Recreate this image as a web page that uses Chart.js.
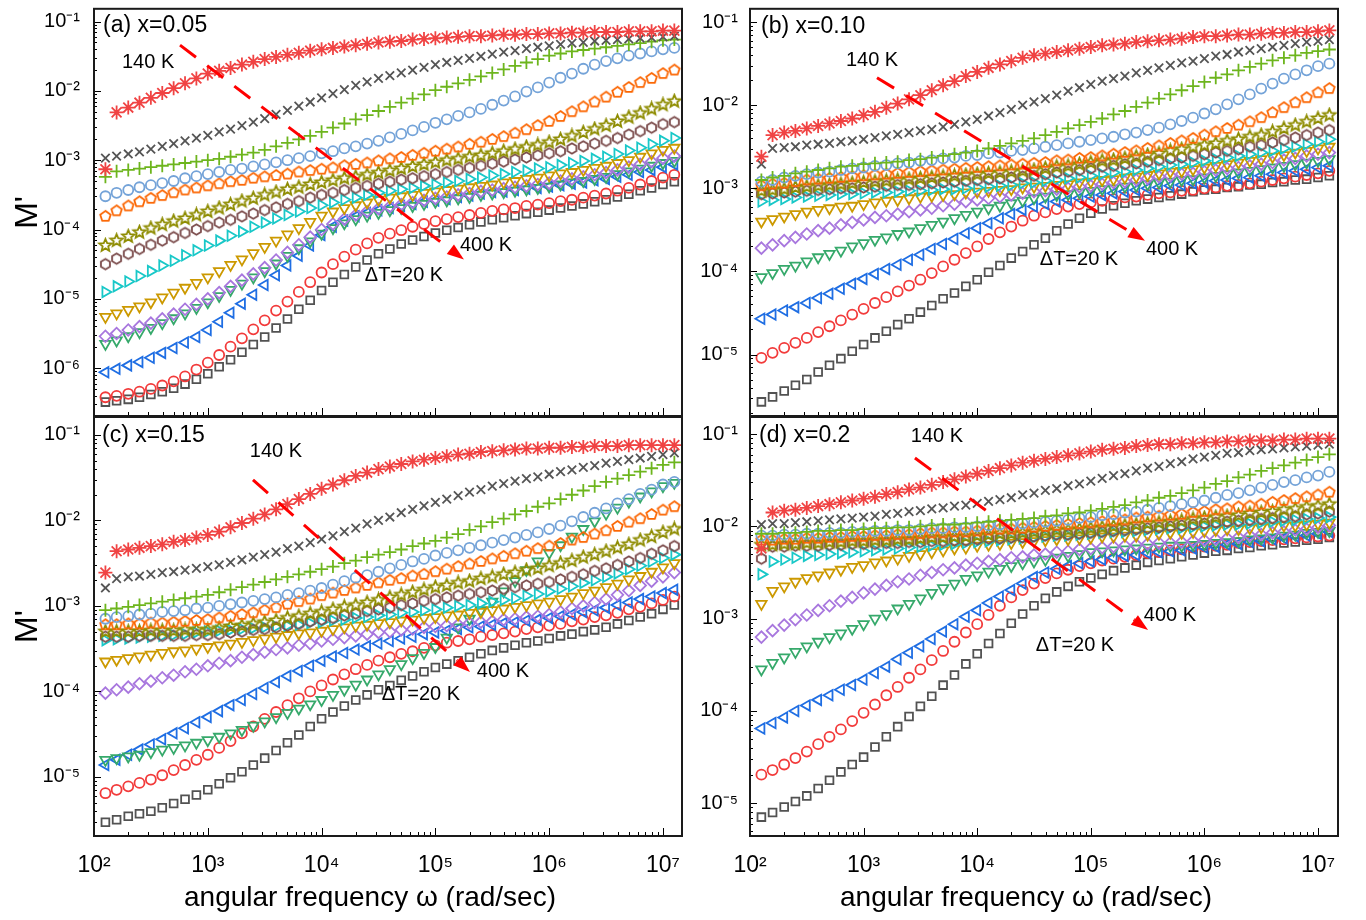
<!DOCTYPE html>
<html>
<head>
<meta charset="utf-8">
<script src="https://cdn.jsdelivr.net/npm/chart.js@4/dist/chart.umd.min.js"></script>
<style>
  body { margin: 0; background: #fff; overflow: hidden; }
  canvas { position: absolute; left: 0; top: 0; }
</style>
</head>
<body>
<canvas id="pa" width="1366" height="920"></canvas>
<canvas id="pb" width="1366" height="920"></canvas>
<canvas id="pc" width="1366" height="920"></canvas>
<canvas id="pd" width="1366" height="920"></canvas>
<script>
// angular frequency grid (rad/sec), 10 points per decade
var omega = [126,158,200,251,316,398,501,631,794,1000,
  1259,1585,1995,2512,3162, 3981,5012,6310,7943,10000,
  12589,15849,19953,25119,31623, 39811,50119,63096,79433,100000,
  125893,158489,199526,251189,316228, 398107,501187,630957,794328,1000000,
  1258925,1584893,1995262,2511886,3162278, 3981072,5011872,6309573,7943282,10000000,
  12589254];

var temps = [140,160,180,200,220,240,260,280,300,320,340,360,380,400];

// log10(M'), one array per temperature

// (a) x=0.05
var a140 = [-3.13,-2.31,-2.24,-2.17,-2.10,-2.03,-1.96,-1.89,-1.82,-1.75, -1.71,-1.67,-1.62,-1.58,-1.54, -1.51,-1.48,-1.45,-1.42,-1.40, -1.38,-1.36,-1.34,-1.32,-1.30, -1.29,-1.28,-1.26,-1.25,-1.24, -1.23,-1.22,-1.21,-1.21,-1.20, -1.19,-1.19,-1.18,-1.18,-1.17, -1.17,-1.16,-1.16,-1.15,-1.15, -1.15,-1.14,-1.14,-1.14,-1.13, -1.13];
var a160 = [-2.97,-2.94,-2.91,-2.88,-2.84,-2.80,-2.76,-2.72,-2.68,-2.64, -2.59,-2.55,-2.50,-2.45,-2.40, -2.34,-2.28,-2.22,-2.16,-2.10, -2.04,-1.98,-1.92,-1.87,-1.82, -1.78,-1.74,-1.70,-1.66,-1.62, -1.59,-1.56,-1.53,-1.50,-1.47, -1.44,-1.42,-1.39,-1.37,-1.35, -1.33,-1.31,-1.30,-1.28,-1.27, -1.26,-1.25,-1.24,-1.23,-1.22, -1.21];
var a180 = [-3.24,-3.16,-3.14,-3.12,-3.10,-3.08,-3.06,-3.04,-3.02,-3.00, -2.98,-2.95,-2.92,-2.89,-2.85, -2.80,-2.75,-2.70,-2.65,-2.59, -2.53,-2.47,-2.41,-2.35,-2.29, -2.23,-2.17,-2.11,-2.05,-1.99, -1.94,-1.89,-1.84,-1.79,-1.74, -1.69,-1.64,-1.59,-1.54,-1.49, -1.46,-1.43,-1.41,-1.39,-1.37, -1.35,-1.33,-1.31,-1.29,-1.27, -1.26];
var a200 = [-3.52,-3.47,-3.43,-3.39,-3.36,-3.33,-3.30,-3.26,-3.23,-3.20, -3.17,-3.14,-3.12,-3.09,-3.06, -3.03,-3.00,-2.97,-2.94,-2.90, -2.87,-2.83,-2.80,-2.76,-2.72, -2.67,-2.62,-2.57,-2.52,-2.46, -2.41,-2.36,-2.31,-2.26,-2.20, -2.14,-2.08,-2.01,-1.95,-1.88, -1.81,-1.75,-1.68,-1.62,-1.57, -1.53,-1.49,-1.46,-1.43,-1.40, -1.38];
var a220 = [-3.81,-3.73,-3.66,-3.60,-3.55,-3.51,-3.47,-3.43,-3.40,-3.37, -3.34,-3.31,-3.29,-3.26,-3.24, -3.22,-3.20,-3.17,-3.15,-3.13, -3.11,-3.08,-3.06,-3.04,-3.01, -2.98,-2.96,-2.93,-2.90,-2.87, -2.84,-2.81,-2.77,-2.74,-2.70, -2.66,-2.61,-2.56,-2.50,-2.44, -2.37,-2.30,-2.23,-2.16,-2.09, -2.02,-1.95,-1.88,-1.82,-1.75, -1.70];
var a240 = [-4.23,-4.16,-4.10,-4.04,-3.98,-3.93,-3.88,-3.84,-3.79,-3.74, -3.69,-3.64,-3.59,-3.55,-3.50, -3.46,-3.42,-3.39,-3.35,-3.32, -3.29,-3.26,-3.24,-3.21,-3.18, -3.15,-3.12,-3.09,-3.06,-3.03, -3.00,-2.98,-2.95,-2.93,-2.90, -2.87,-2.84,-2.81,-2.78,-2.74, -2.70,-2.65,-2.60,-2.55,-2.50, -2.44,-2.38,-2.32,-2.26,-2.20, -2.15];
var a260 = [-4.50,-4.42,-4.35,-4.28,-4.22,-4.16,-4.11,-4.05,-4.00,-3.95, -3.90,-3.86,-3.81,-3.77,-3.72, -3.68,-3.63,-3.59,-3.54,-3.50, -3.47,-3.43,-3.40,-3.37,-3.34, -3.31,-3.28,-3.26,-3.23,-3.20, -3.17,-3.14,-3.11,-3.08,-3.05, -3.02,-2.99,-2.96,-2.93,-2.90, -2.87,-2.83,-2.80,-2.76,-2.72, -2.68,-2.63,-2.58,-2.53,-2.48, -2.45];
var a280 = [-4.90,-4.82,-4.75,-4.67,-4.60,-4.52,-4.45,-4.37,-4.30,-4.23, -4.16,-4.09,-4.03,-3.96,-3.90, -3.84,-3.79,-3.74,-3.69,-3.65, -3.61,-3.57,-3.54,-3.50,-3.47, -3.44,-3.42,-3.40,-3.37,-3.35, -3.32,-3.30,-3.27,-3.25,-3.22, -3.20,-3.17,-3.15,-3.12,-3.10, -3.07,-3.04,-3.01,-2.98,-2.95, -2.91,-2.86,-2.82,-2.77,-2.72, -2.68];
var a300 = [-5.26,-5.21,-5.16,-5.11,-5.05,-4.98,-4.91,-4.84,-4.77,-4.69, -4.60,-4.51,-4.43,-4.34,-4.25, -4.16,-4.07,-3.98,-3.89,-3.80, -3.74,-3.69,-3.65,-3.61,-3.57, -3.54,-3.52,-3.50,-3.47,-3.45, -3.43,-3.41,-3.39,-3.37,-3.35, -3.32,-3.30,-3.27,-3.25,-3.22, -3.19,-3.17,-3.14,-3.11,-3.08, -3.04,-3.00,-2.95,-2.90,-2.85, -2.82];
var a320 = [-5.54,-5.50,-5.45,-5.40,-5.35,-5.29,-5.22,-5.15,-5.08,-5.00, -4.91,-4.82,-4.73,-4.64,-4.55, -4.44,-4.33,-4.22,-4.11,-4.00, -3.92,-3.85,-3.79,-3.74,-3.70, -3.67,-3.64,-3.61,-3.58,-3.55, -3.53,-3.50,-3.48,-3.45,-3.43, -3.41,-3.39,-3.37,-3.35,-3.33, -3.30,-3.27,-3.24,-3.21,-3.18, -3.14,-3.10,-3.06,-3.02,-2.97, -2.94];
var a340 = [-5.65,-5.60,-5.54,-5.48,-5.42,-5.35,-5.28,-5.21,-5.13,-5.05, -4.96,-4.87,-4.78,-4.69,-4.60, -4.49,-4.38,-4.27,-4.17,-4.06, -3.98,-3.91,-3.85,-3.80,-3.76, -3.72,-3.69,-3.66,-3.63,-3.60, -3.58,-3.55,-3.53,-3.50,-3.48, -3.46,-3.44,-3.42,-3.40,-3.38, -3.35,-3.32,-3.30,-3.27,-3.24, -3.20,-3.16,-3.12,-3.08,-3.04, -3.01];
var a360 = [-6.06,-6.01,-5.96,-5.91,-5.85,-5.78,-5.71,-5.63,-5.55,-5.45, -5.33,-5.20,-5.07,-4.94,-4.80, -4.66,-4.52,-4.38,-4.23,-4.08, -3.96,-3.87,-3.81,-3.76,-3.72, -3.69,-3.66,-3.63,-3.60,-3.58, -3.56,-3.53,-3.51,-3.48,-3.46, -3.45,-3.43,-3.41,-3.40,-3.38, -3.36,-3.34,-3.32,-3.29,-3.27, -3.24,-3.21,-3.17,-3.14,-3.10, -3.06];
var a380 = [-6.42,-6.40,-6.37,-6.34,-6.30,-6.25,-6.19,-6.12,-6.02,-5.92, -5.81,-5.69,-5.57,-5.44,-5.31, -5.17,-5.04,-4.90,-4.76,-4.62, -4.50,-4.39,-4.29,-4.20,-4.12, -4.06,-4.01,-3.96,-3.92,-3.88, -3.85,-3.82,-3.79,-3.76,-3.73, -3.71,-3.69,-3.66,-3.64,-3.62, -3.59,-3.57,-3.54,-3.51,-3.48, -3.44,-3.40,-3.35,-3.30,-3.25, -3.21];
var a400 = [-6.49,-6.47,-6.45,-6.42,-6.38,-6.34,-6.29,-6.23,-6.16,-6.08, -5.98,-5.88,-5.77,-5.66,-5.55, -5.42,-5.29,-5.15,-5.02,-4.88, -4.76,-4.65,-4.54,-4.44,-4.35, -4.28,-4.21,-4.15,-4.10,-4.05, -4.01,-3.97,-3.93,-3.89,-3.86, -3.83,-3.80,-3.77,-3.75,-3.72, -3.69,-3.66,-3.63,-3.60,-3.57, -3.53,-3.49,-3.44,-3.40,-3.35, -3.31];

// (b) x=0.10
var b140 = [-2.62,-2.36,-2.33,-2.31,-2.28,-2.25,-2.22,-2.19,-2.16,-2.12, -2.08,-2.03,-1.98,-1.93,-1.88, -1.82,-1.76,-1.71,-1.65,-1.60, -1.55,-1.51,-1.47,-1.43,-1.40, -1.38,-1.36,-1.34,-1.32,-1.30, -1.28,-1.27,-1.26,-1.24,-1.23, -1.22,-1.21,-1.20,-1.18,-1.17, -1.17,-1.16,-1.15,-1.15,-1.14, -1.13,-1.13,-1.12,-1.12,-1.11, -1.10];
var b160 = [-2.71,-2.52,-2.51,-2.50,-2.48,-2.47,-2.46,-2.44,-2.43,-2.41, -2.39,-2.37,-2.35,-2.33,-2.31, -2.29,-2.26,-2.23,-2.20,-2.17, -2.13,-2.09,-2.05,-2.00,-1.96, -1.92,-1.88,-1.83,-1.79,-1.75, -1.71,-1.68,-1.65,-1.61,-1.58, -1.55,-1.52,-1.49,-1.47,-1.44, -1.41,-1.39,-1.36,-1.34,-1.32, -1.30,-1.28,-1.26,-1.24,-1.23, -1.21];
var b180 = [-2.90,-2.87,-2.85,-2.82,-2.80,-2.78,-2.76,-2.74,-2.73,-2.71, -2.70,-2.69,-2.68,-2.66,-2.65, -2.63,-2.61,-2.59,-2.57,-2.55, -2.52,-2.49,-2.46,-2.43,-2.40, -2.36,-2.32,-2.28,-2.24,-2.20, -2.16,-2.11,-2.07,-2.02,-1.97, -1.92,-1.87,-1.82,-1.77,-1.72, -1.67,-1.63,-1.58,-1.54,-1.50, -1.46,-1.43,-1.40,-1.37,-1.35, -1.33];
var b200 = [-2.92,-2.90,-2.87,-2.85,-2.83,-2.81,-2.80,-2.78,-2.76,-2.75, -2.73,-2.72,-2.70,-2.69,-2.67, -2.66,-2.64,-2.63,-2.61,-2.60, -2.58,-2.57,-2.55,-2.54,-2.52, -2.50,-2.48,-2.46,-2.44,-2.42, -2.40,-2.38,-2.35,-2.33,-2.30, -2.27,-2.23,-2.19,-2.15,-2.10, -2.05,-1.99,-1.93,-1.87,-1.80, -1.74,-1.68,-1.63,-1.58,-1.53, -1.50];
var b220 = [-2.97,-2.95,-2.94,-2.92,-2.90,-2.89,-2.88,-2.87,-2.86,-2.85, -2.84,-2.83,-2.82,-2.81,-2.80, -2.79,-2.78,-2.77,-2.76,-2.75, -2.74,-2.73,-2.72,-2.71,-2.70, -2.69,-2.67,-2.66,-2.64,-2.63, -2.61,-2.59,-2.57,-2.55,-2.52, -2.49,-2.46,-2.43,-2.40,-2.36, -2.32,-2.28,-2.24,-2.20,-2.15, -2.09,-2.03,-1.97,-1.91,-1.85, -1.80];
var b240 = [-3.03,-3.02,-3.01,-2.99,-2.98,-2.97,-2.96,-2.95,-2.94,-2.93, -2.92,-2.91,-2.90,-2.89,-2.88, -2.87,-2.86,-2.85,-2.84,-2.83, -2.82,-2.81,-2.80,-2.79,-2.78, -2.76,-2.74,-2.73,-2.71,-2.69, -2.67,-2.66,-2.64,-2.62,-2.60, -2.58,-2.55,-2.53,-2.50,-2.48, -2.46,-2.43,-2.41,-2.38,-2.36, -2.32,-2.28,-2.24,-2.20,-2.16, -2.12];
var b260 = [-3.07,-3.06,-3.05,-3.04,-3.03,-3.02,-3.01,-3.00,-3.00,-2.99, -2.98,-2.97,-2.96,-2.96,-2.95, -2.94,-2.93,-2.92,-2.91,-2.90, -2.89,-2.88,-2.87,-2.86,-2.85, -2.83,-2.81,-2.80,-2.78,-2.76, -2.74,-2.73,-2.71,-2.70,-2.68, -2.66,-2.64,-2.63,-2.61,-2.59, -2.57,-2.55,-2.53,-2.50,-2.48, -2.45,-2.42,-2.39,-2.36,-2.33, -2.30];
var b280 = [-3.16,-3.14,-3.13,-3.11,-3.10,-3.09,-3.08,-3.07,-3.07,-3.06, -3.05,-3.05,-3.04,-3.03,-3.03, -3.02,-3.01,-3.01,-3.00,-2.99, -2.98,-2.97,-2.96,-2.94,-2.93, -2.91,-2.90,-2.88,-2.87,-2.85, -2.83,-2.81,-2.80,-2.78,-2.76, -2.74,-2.72,-2.71,-2.69,-2.67, -2.65,-2.63,-2.61,-2.59,-2.57, -2.55,-2.52,-2.50,-2.47,-2.44, -2.41];
var b300 = [-3.40,-3.37,-3.34,-3.31,-3.28,-3.26,-3.24,-3.22,-3.21,-3.19, -3.17,-3.15,-3.14,-3.12,-3.10, -3.09,-3.08,-3.07,-3.05,-3.04, -3.03,-3.02,-3.01,-2.99,-2.98, -2.97,-2.96,-2.95,-2.93,-2.92, -2.90,-2.89,-2.87,-2.86,-2.84, -2.82,-2.80,-2.79,-2.77,-2.75, -2.73,-2.71,-2.69,-2.67,-2.65, -2.62,-2.60,-2.57,-2.55,-2.52, -2.50];
var b320 = [-3.72,-3.68,-3.63,-3.59,-3.55,-3.51,-3.48,-3.44,-3.41,-3.38, -3.35,-3.33,-3.31,-3.28,-3.26, -3.24,-3.21,-3.19,-3.16,-3.14, -3.12,-3.10,-3.08,-3.06,-3.04, -3.03,-3.01,-3.00,-2.98,-2.97, -2.95,-2.93,-2.92,-2.90,-2.88, -2.86,-2.85,-2.83,-2.82,-2.80, -2.78,-2.76,-2.75,-2.73,-2.71, -2.69,-2.66,-2.64,-2.61,-2.59, -2.57];
var b340 = [-4.07,-4.02,-3.97,-3.93,-3.88,-3.83,-3.79,-3.75,-3.70,-3.66, -3.62,-3.59,-3.55,-3.52,-3.48, -3.44,-3.40,-3.36,-3.32,-3.28, -3.24,-3.21,-3.18,-3.15,-3.12, -3.10,-3.08,-3.07,-3.05,-3.03, -3.01,-3.00,-2.98,-2.97,-2.95, -2.93,-2.92,-2.90,-2.89,-2.87, -2.85,-2.83,-2.81,-2.79,-2.77, -2.75,-2.73,-2.71,-2.69,-2.67, -2.65];
var b360 = [-4.57,-4.52,-4.47,-4.43,-4.38,-4.32,-4.27,-4.21,-4.15,-4.09, -4.03,-3.97,-3.92,-3.86,-3.80, -3.73,-3.67,-3.61,-3.54,-3.48, -3.42,-3.36,-3.31,-3.26,-3.22, -3.19,-3.16,-3.14,-3.12,-3.10, -3.08,-3.06,-3.04,-3.02,-3.00, -2.99,-2.97,-2.96,-2.94,-2.93, -2.91,-2.90,-2.88,-2.87,-2.85, -2.83,-2.81,-2.79,-2.77,-2.75, -2.73];
var b380 = [-5.04,-4.98,-4.92,-4.86,-4.80,-4.73,-4.66,-4.59,-4.52,-4.45, -4.38,-4.31,-4.24,-4.17,-4.10, -4.02,-3.94,-3.86,-3.78,-3.70, -3.61,-3.53,-3.46,-3.39,-3.33, -3.29,-3.25,-3.22,-3.19,-3.17, -3.15,-3.13,-3.11,-3.10,-3.08, -3.06,-3.05,-3.03,-3.02,-3.00, -2.99,-2.97,-2.96,-2.94,-2.92, -2.90,-2.88,-2.86,-2.84,-2.82, -2.79];
var b400 = [-5.57,-5.51,-5.44,-5.37,-5.30,-5.21,-5.13,-5.05,-4.96,-4.88, -4.80,-4.72,-4.64,-4.57,-4.49, -4.41,-4.33,-4.26,-4.18,-4.10, -4.01,-3.93,-3.84,-3.76,-3.68, -3.60,-3.51,-3.43,-3.36,-3.30, -3.25,-3.21,-3.18,-3.15,-3.13, -3.11,-3.09,-3.07,-3.04,-3.02, -3.01,-2.99,-2.98,-2.96,-2.95, -2.93,-2.92,-2.90,-2.89,-2.87, -2.85];

// (c) x=0.15
var c140 = [-2.61,-2.36,-2.34,-2.32,-2.30,-2.28,-2.25,-2.23,-2.20,-2.17, -2.13,-2.08,-2.03,-1.98,-1.93, -1.87,-1.81,-1.75,-1.69,-1.63, -1.58,-1.53,-1.48,-1.44,-1.40, -1.37,-1.34,-1.31,-1.29,-1.27, -1.25,-1.23,-1.22,-1.20,-1.19, -1.18,-1.17,-1.16,-1.16,-1.15, -1.15,-1.14,-1.14,-1.13,-1.13, -1.13,-1.12,-1.12,-1.12,-1.12, -1.12];
var c160 = [-2.79,-2.68,-2.66,-2.65,-2.63,-2.61,-2.60,-2.58,-2.56,-2.54, -2.52,-2.49,-2.46,-2.43,-2.40, -2.37,-2.33,-2.30,-2.26,-2.22, -2.18,-2.13,-2.09,-2.04,-2.00, -1.96,-1.91,-1.87,-1.83,-1.79, -1.75,-1.71,-1.67,-1.64,-1.60, -1.57,-1.54,-1.51,-1.49,-1.46, -1.43,-1.41,-1.38,-1.36,-1.33, -1.31,-1.29,-1.27,-1.25,-1.23, -1.21];
var c180 = [-3.05,-3.03,-3.01,-2.99,-2.97,-2.95,-2.93,-2.91,-2.89,-2.87, -2.84,-2.81,-2.78,-2.75,-2.72, -2.69,-2.66,-2.63,-2.60,-2.57, -2.54,-2.50,-2.47,-2.43,-2.40, -2.37,-2.34,-2.30,-2.27,-2.24, -2.20,-2.16,-2.11,-2.07,-2.02, -1.98,-1.93,-1.89,-1.84,-1.80, -1.75,-1.70,-1.65,-1.60,-1.55, -1.51,-1.47,-1.43,-1.39,-1.35, -1.32];
var c200 = [-3.15,-3.13,-3.12,-3.10,-3.09,-3.07,-3.06,-3.05,-3.03,-3.02, -3.00,-2.98,-2.96,-2.94,-2.92, -2.90,-2.87,-2.85,-2.82,-2.79, -2.75,-2.71,-2.67,-2.64,-2.60, -2.56,-2.52,-2.48,-2.45,-2.41, -2.38,-2.35,-2.32,-2.29,-2.26, -2.23,-2.20,-2.17,-2.14,-2.10, -2.06,-2.01,-1.96,-1.91,-1.86, -1.80,-1.75,-1.69,-1.64,-1.58, -1.55];
var c220 = [-3.22,-3.22,-3.21,-3.21,-3.20,-3.20,-3.19,-3.18,-3.17,-3.16, -3.14,-3.12,-3.10,-3.08,-3.05, -3.02,-2.98,-2.95,-2.92,-2.88, -2.85,-2.82,-2.79,-2.76,-2.73, -2.70,-2.68,-2.65,-2.63,-2.60, -2.57,-2.54,-2.51,-2.48,-2.45, -2.42,-2.39,-2.36,-2.33,-2.30, -2.27,-2.23,-2.20,-2.16,-2.12, -2.07,-2.02,-1.98,-1.93,-1.88, -1.84];
var c240 = [-3.30,-3.30,-3.30,-3.30,-3.29,-3.29,-3.29,-3.28,-3.28,-3.28, -3.26,-3.24,-3.23,-3.21,-3.19, -3.17,-3.14,-3.12,-3.09,-3.07, -3.04,-3.01,-2.99,-2.96,-2.93, -2.90,-2.87,-2.84,-2.81,-2.78, -2.76,-2.73,-2.71,-2.68,-2.66, -2.63,-2.61,-2.58,-2.56,-2.53, -2.50,-2.47,-2.43,-2.40,-2.36, -2.32,-2.28,-2.23,-2.19,-2.14, -2.10];
var c260 = [-3.36,-3.36,-3.36,-3.35,-3.35,-3.35,-3.35,-3.35,-3.34,-3.34, -3.33,-3.31,-3.30,-3.28,-3.27, -3.25,-3.23,-3.21,-3.18,-3.16, -3.14,-3.11,-3.09,-3.06,-3.04, -3.02,-2.99,-2.97,-2.94,-2.92, -2.90,-2.88,-2.86,-2.84,-2.82, -2.80,-2.78,-2.76,-2.74,-2.72, -2.69,-2.66,-2.63,-2.59,-2.56, -2.52,-2.48,-2.44,-2.39,-2.35, -2.30];
var c280 = [-3.40,-3.39,-3.38,-3.37,-3.36,-3.35,-3.34,-3.33,-3.31,-3.30, -3.29,-3.28,-3.27,-3.26,-3.25, -3.24,-3.23,-3.22,-3.20,-3.19, -3.17,-3.16,-3.14,-3.13,-3.11, -3.10,-3.08,-3.07,-3.05,-3.04, -3.02,-3.00,-2.99,-2.97,-2.95, -2.93,-2.91,-2.88,-2.86,-2.83, -2.80,-2.77,-2.73,-2.70,-2.66, -2.62,-2.57,-2.53,-2.48,-2.44, -2.40];
var c300 = [-3.65,-3.63,-3.61,-3.59,-3.57,-3.55,-3.53,-3.52,-3.50,-3.48, -3.46,-3.44,-3.42,-3.40,-3.38, -3.36,-3.34,-3.32,-3.31,-3.29, -3.27,-3.25,-3.23,-3.22,-3.20, -3.19,-3.17,-3.16,-3.14,-3.13, -3.11,-3.10,-3.08,-3.07,-3.05, -3.03,-3.01,-2.99,-2.97,-2.95, -2.92,-2.89,-2.85,-2.82,-2.78, -2.74,-2.69,-2.65,-2.60,-2.55, -2.50];
var c320 = [-4.02,-3.98,-3.95,-3.91,-3.88,-3.84,-3.81,-3.77,-3.74,-3.70, -3.67,-3.64,-3.60,-3.57,-3.54, -3.51,-3.49,-3.46,-3.44,-3.41, -3.39,-3.37,-3.35,-3.33,-3.31, -3.30,-3.28,-3.27,-3.25,-3.24, -3.23,-3.22,-3.20,-3.19,-3.18, -3.16,-3.15,-3.13,-3.12,-3.10, -3.07,-3.03,-3.00,-2.96,-2.92, -2.87,-2.82,-2.76,-2.71,-2.66, -2.61];
var c340 = [-4.80,-4.78,-4.76,-4.74,-4.71,-4.68,-4.66,-4.63,-4.60,-4.57, -4.53,-4.49,-4.45,-4.40,-4.35, -4.30,-4.25,-4.20,-4.15,-4.10, -4.04,-3.98,-3.92,-3.86,-3.80, -3.74,-3.68,-3.61,-3.55,-3.48, -3.37,-3.25,-3.15,-3.05,-2.95, -2.83,-2.71,-2.58,-2.48,-2.38, -2.29,-2.19,-2.10,-2.01,-1.92, -1.85,-1.78,-1.72,-1.66,-1.60, -1.56];
var c360 = [-4.86,-4.80,-4.74,-4.68,-4.62,-4.56,-4.49,-4.43,-4.36,-4.30, -4.23,-4.16,-4.10,-4.03,-3.96, -3.89,-3.82,-3.76,-3.70,-3.64, -3.59,-3.55,-3.51,-3.47,-3.44, -3.41,-3.38,-3.36,-3.33,-3.31, -3.29,-3.27,-3.25,-3.24,-3.22, -3.20,-3.19,-3.17,-3.16,-3.14, -3.12,-3.10,-3.07,-3.05,-3.02, -2.99,-2.96,-2.92,-2.89,-2.85, -2.81];
var c380 = [-5.19,-5.15,-5.11,-5.07,-5.03,-4.98,-4.92,-4.86,-4.80,-4.74, -4.66,-4.58,-4.49,-4.41,-4.32, -4.24,-4.16,-4.08,-4.00,-3.93, -3.86,-3.80,-3.74,-3.69,-3.64, -3.60,-3.56,-3.53,-3.49,-3.46, -3.43,-3.41,-3.39,-3.36,-3.34, -3.32,-3.30,-3.27,-3.25,-3.23, -3.21,-3.18,-3.16,-3.13,-3.11, -3.08,-3.04,-3.01,-2.97,-2.93, -2.89];
var c400 = [-5.53,-5.50,-5.46,-5.43,-5.40,-5.36,-5.31,-5.26,-5.21,-5.15, -5.08,-5.01,-4.94,-4.86,-4.78, -4.69,-4.60,-4.51,-4.41,-4.32, -4.24,-4.17,-4.10,-4.04,-3.98, -3.93,-3.87,-3.82,-3.77,-3.72, -3.68,-3.64,-3.60,-3.56,-3.52, -3.49,-3.46,-3.43,-3.41,-3.38, -3.35,-3.33,-3.30,-3.28,-3.25, -3.21,-3.17,-3.13,-3.09,-3.04, -2.99];

// (d) x=0.2
var d140 = [-2.24,-1.85,-1.83,-1.82,-1.80,-1.78,-1.76,-1.74,-1.72,-1.70, -1.68,-1.65,-1.63,-1.60,-1.58, -1.55,-1.52,-1.49,-1.46,-1.43, -1.40,-1.37,-1.34,-1.31,-1.29, -1.27,-1.25,-1.23,-1.21,-1.19, -1.17,-1.16,-1.15,-1.13,-1.12, -1.11,-1.11,-1.10,-1.10,-1.09, -1.09,-1.08,-1.08,-1.07,-1.07, -1.07,-1.06,-1.06,-1.05,-1.05, -1.05];
var d160 = [-1.98,-1.97,-1.97,-1.96,-1.95,-1.94,-1.93,-1.92,-1.91,-1.90, -1.89,-1.87,-1.86,-1.84,-1.83, -1.81,-1.80,-1.78,-1.77,-1.75, -1.73,-1.71,-1.69,-1.66,-1.64, -1.61,-1.59,-1.56,-1.54,-1.51, -1.48,-1.45,-1.43,-1.40,-1.37, -1.35,-1.32,-1.30,-1.27,-1.25, -1.23,-1.21,-1.20,-1.18,-1.17, -1.16,-1.15,-1.14,-1.13,-1.12, -1.11];
var d180 = [-2.08,-2.08,-2.07,-2.07,-2.06,-2.05,-2.05,-2.04,-2.04,-2.03, -2.02,-2.02,-2.01,-2.01,-2.00, -1.99,-1.98,-1.98,-1.97,-1.96, -1.95,-1.94,-1.93,-1.92,-1.91, -1.89,-1.88,-1.86,-1.85,-1.83, -1.81,-1.79,-1.77,-1.74,-1.72, -1.69,-1.67,-1.64,-1.61,-1.58, -1.54,-1.51,-1.47,-1.44,-1.40, -1.37,-1.34,-1.31,-1.28,-1.25, -1.22];
var d200 = [-2.10,-2.10,-2.09,-2.09,-2.08,-2.08,-2.07,-2.07,-2.06,-2.06, -2.05,-2.05,-2.04,-2.04,-2.03, -2.02,-2.02,-2.01,-2.01,-2.00, -1.99,-1.98,-1.98,-1.97,-1.96, -1.95,-1.94,-1.93,-1.91,-1.90, -1.88,-1.87,-1.85,-1.84,-1.82, -1.80,-1.78,-1.76,-1.74,-1.72, -1.69,-1.66,-1.64,-1.61,-1.58, -1.55,-1.52,-1.50,-1.47,-1.45, -1.41];
var d220 = [-2.15,-2.15,-2.14,-2.14,-2.13,-2.13,-2.12,-2.12,-2.11,-2.11, -2.10,-2.10,-2.09,-2.09,-2.08, -2.07,-2.07,-2.06,-2.06,-2.05, -2.04,-2.03,-2.03,-2.02,-2.01, -2.00,-1.99,-1.98,-1.97,-1.96, -1.95,-1.94,-1.93,-1.91,-1.90, -1.89,-1.88,-1.87,-1.85,-1.84, -1.82,-1.81,-1.79,-1.78,-1.76, -1.74,-1.72,-1.70,-1.68,-1.66, -1.63];
var d240 = [-2.20,-2.20,-2.19,-2.19,-2.18,-2.18,-2.17,-2.17,-2.16,-2.16, -2.15,-2.15,-2.14,-2.14,-2.13, -2.12,-2.12,-2.11,-2.11,-2.10, -2.09,-2.08,-2.08,-2.07,-2.06, -2.05,-2.04,-2.04,-2.03,-2.02, -2.01,-2.00,-1.99,-1.98,-1.97, -1.96,-1.95,-1.94,-1.92,-1.91, -1.90,-1.89,-1.88,-1.86,-1.85, -1.84,-1.82,-1.81,-1.79,-1.78, -1.76];
var d260 = [-2.35,-2.22,-2.22,-2.21,-2.21,-2.21,-2.20,-2.20,-2.19,-2.19, -2.19,-2.18,-2.18,-2.17,-2.17, -2.16,-2.16,-2.15,-2.15,-2.14, -2.13,-2.13,-2.12,-2.12,-2.11, -2.10,-2.09,-2.09,-2.08,-2.07, -2.06,-2.05,-2.04,-2.03,-2.02, -2.01,-2.00,-1.99,-1.98,-1.97, -1.96,-1.95,-1.94,-1.93,-1.92, -1.91,-1.90,-1.89,-1.87,-1.86, -1.84];
var d280 = [-2.52,-2.38,-2.36,-2.34,-2.32,-2.31,-2.30,-2.29,-2.28,-2.27, -2.26,-2.25,-2.24,-2.23,-2.22, -2.21,-2.20,-2.19,-2.18,-2.17, -2.16,-2.15,-2.14,-2.13,-2.12, -2.11,-2.10,-2.10,-2.09,-2.08, -2.07,-2.06,-2.06,-2.05,-2.04, -2.03,-2.02,-2.02,-2.01,-2.00, -1.99,-1.98,-1.98,-1.97,-1.96, -1.95,-1.94,-1.93,-1.92,-1.91, -1.90];
var d300 = [-2.84,-2.70,-2.65,-2.60,-2.56,-2.53,-2.50,-2.47,-2.44,-2.42, -2.39,-2.37,-2.35,-2.32,-2.30, -2.28,-2.26,-2.24,-2.23,-2.21, -2.20,-2.19,-2.18,-2.17,-2.16, -2.15,-2.14,-2.14,-2.13,-2.12, -2.11,-2.11,-2.10,-2.10,-2.09, -2.08,-2.07,-2.07,-2.06,-2.05, -2.04,-2.03,-2.03,-2.02,-2.01, -2.00,-1.99,-1.99,-1.98,-1.97, -1.96];
var d320 = [-3.20,-3.13,-3.07,-3.01,-2.96,-2.91,-2.86,-2.81,-2.77,-2.72, -2.68,-2.64,-2.60,-2.57,-2.53, -2.50,-2.47,-2.45,-2.42,-2.40, -2.38,-2.36,-2.34,-2.33,-2.31, -2.30,-2.28,-2.27,-2.25,-2.24, -2.23,-2.22,-2.21,-2.20,-2.19, -2.18,-2.18,-2.17,-2.16,-2.15, -2.14,-2.13,-2.12,-2.10,-2.09, -2.07,-2.06,-2.04,-2.03,-2.01, -1.99];
var d340 = [-3.55,-3.48,-3.42,-3.36,-3.30,-3.25,-3.20,-3.16,-3.11,-3.06, -3.00,-2.95,-2.89,-2.84,-2.78, -2.72,-2.67,-2.62,-2.57,-2.53, -2.49,-2.46,-2.43,-2.40,-2.38, -2.36,-2.34,-2.32,-2.30,-2.28, -2.27,-2.26,-2.25,-2.24,-2.23, -2.22,-2.21,-2.21,-2.20,-2.19, -2.18,-2.17,-2.16,-2.14,-2.13, -2.12,-2.10,-2.09,-2.07,-2.06, -2.05];
var d360 = [-4.19,-4.13,-4.07,-4.00,-3.94,-3.88,-3.83,-3.77,-3.72,-3.66, -3.59,-3.52,-3.44,-3.37,-3.30, -3.22,-3.14,-3.06,-2.98,-2.91, -2.83,-2.76,-2.69,-2.62,-2.55, -2.50,-2.46,-2.43,-2.40,-2.38, -2.36,-2.34,-2.32,-2.31,-2.29, -2.28,-2.27,-2.26,-2.24,-2.23, -2.22,-2.20,-2.19,-2.17,-2.16, -2.14,-2.13,-2.11,-2.10,-2.08, -2.06];
var d380 = [-4.69,-4.64,-4.58,-4.51,-4.44,-4.36,-4.28,-4.20,-4.11,-4.02, -3.93,-3.83,-3.74,-3.64,-3.55, -3.45,-3.35,-3.25,-3.15,-3.06, -2.96,-2.86,-2.77,-2.69,-2.62, -2.56,-2.51,-2.47,-2.43,-2.40, -2.37,-2.35,-2.33,-2.31,-2.29, -2.28,-2.26,-2.25,-2.23,-2.22, -2.21,-2.20,-2.18,-2.17,-2.16, -2.15,-2.14,-2.13,-2.12,-2.11, -2.10];
var d400 = [-5.15,-5.10,-5.04,-4.98,-4.92,-4.84,-4.75,-4.66,-4.58,-4.50, -4.39,-4.28,-4.17,-4.06,-3.95, -3.84,-3.72,-3.61,-3.49,-3.38, -3.27,-3.16,-3.05,-2.95,-2.86, -2.78,-2.71,-2.65,-2.60,-2.56, -2.52,-2.48,-2.45,-2.42,-2.39, -2.37,-2.35,-2.33,-2.31,-2.29, -2.27,-2.26,-2.24,-2.23,-2.21, -2.20,-2.18,-2.17,-2.15,-2.14, -2.12];

// marker look per temperature (140 K ... 400 K)
var colors = ['#f04343','#555555','#6db51d','#74a3d8','#fb6500','#8e8c00','#7b4b4b','#19c8c8','#cc9900','#a877de','#36a96b','#1f6ee3','#f23b3b','#525252'];
var shapes = ['star','crossRot','cross','circle','pentagon','star5','hexagon','triangle','triangle','rectRot','triangle','triangle','circle','rect'];
var rotations = [0,0,0,0,0,0,0,90,180,0,180,-90,0,0];
var radii = [7,6,6.5,5,5.5,6.5,5.2,6,6,5.8,6,6,5,5.5];

Chart.defaults.font.family = "'Liberation Sans', Arial, Helvetica, sans-serif";
Chart.defaults.color = '#000';

function outlineShape(kind, color, r) {
  var s = Math.ceil(r * 2 + 4);
  var c = document.createElement('canvas');
  c.width = s; c.height = s;
  var g = c.getContext('2d');
  g.strokeStyle = color;
  g.lineWidth = 1.8;
  var n = kind === 'star5' ? 10 : (kind === 'pentagon' ? 5 : 6);
  g.beginPath();
  for (var i = 0; i < n; i++) {
    var ang = -Math.PI / 2 + i * 2 * Math.PI / n;
    var rr = kind === 'star5' && i % 2 ? r * 0.45 : r;
    var px = s / 2 + rr * Math.cos(ang), py = s / 2 + rr * Math.sin(ang);
    if (i) g.lineTo(px, py); else g.moveTo(px, py);
  }
  g.closePath();
  g.stroke();
  return c;
}

function styleFor(i) {
  var k = shapes[i];
  if (k === 'pentagon' || k === 'star5' || k === 'hexagon') return outlineShape(k, colors[i], radii[i]);
  return k;
}

var sup = {'-':'\u207B','0':'\u2070','1':'\u00B9','2':'\u00B2','3':'\u00B3','4':'\u2074','5':'\u2075','6':'\u2076','7':'\u2077','8':'\u2078','9':'\u2079'};
function decadeLabel(v) {
  var e = Math.log10(v), r = Math.round(e);
  if (Math.abs(e - r) > 1e-6) return '';
  return '10' + String(r).split('').map(function (ch) { return sup[ch]; }).join('');
}

// frame, inward ticks, arrow and notes
var decor = {
  id: 'decor',
  afterDatasetsDraw: function (chart, args, o) {
    var ctx = chart.ctx, a = chart.chartArea, x = chart.scales.x, y = chart.scales.y;
    ctx.save();
    // dashed arrow 140 K -> 400 K
    var px0 = x.getPixelForValue(o.arrow[0]), py0 = y.getPixelForValue(o.arrow[1]);
    var px1 = x.getPixelForValue(o.arrow[2]), py1 = y.getPixelForValue(o.arrow[3]);
    var ang = Math.atan2(py1 - py0, px1 - px0);
    var head = 17, half = 6;
    var bx = px1 - head * Math.cos(ang), by = py1 - head * Math.sin(ang);
    ctx.strokeStyle = '#ff0000';
    ctx.fillStyle = '#ff0000';
    ctx.lineWidth = 3;
    ctx.setLineDash([20, 14]);
    ctx.beginPath(); ctx.moveTo(px0, py0); ctx.lineTo(bx, by); ctx.stroke();
    ctx.setLineDash([]);
    ctx.beginPath();
    ctx.moveTo(px1, py1);
    ctx.lineTo(bx + half * Math.sin(ang), by - half * Math.cos(ang));
    ctx.lineTo(bx - half * Math.sin(ang), by + half * Math.cos(ang));
    ctx.closePath(); ctx.fill();

    ctx.fillStyle = '#000';
    ctx.textBaseline = 'middle';
    ctx.textAlign = 'center';
    ctx.font = "20px 'Liberation Sans', Arial, sans-serif";
    o.notes.forEach(function (n) {
      ctx.fillText(n.t, x.getPixelForValue(n.x), y.getPixelForValue(n.y));
    });
    ctx.textAlign = 'left';
    ctx.font = "23px 'Liberation Sans', Arial, sans-serif";
    ctx.fillText(o.label, a.left + o.labelDx, a.top + o.labelDy);

    // inward ticks
    ctx.strokeStyle = '#000';
    ctx.lineWidth = 1;
    ctx.beginPath();
    for (var e = -8; e <= 8; e++) {
      for (var m = 1; m < 10; m++) {
        var v = m * Math.pow(10, e);
        var len = m === 1 ? 8 : 4;
        if (v >= x.min && v <= x.max) {
          var tx = Math.round(x.getPixelForValue(v)) + 0.5;
          ctx.moveTo(tx, a.bottom); ctx.lineTo(tx, a.bottom - len);
        }
        if (v >= y.min && v <= y.max) {
          var ty = Math.round(y.getPixelForValue(v)) + 0.5;
          ctx.moveTo(a.left, ty); ctx.lineTo(a.left + len - 1, ty);
        }
      }
    }
    ctx.stroke();

    // frame
    ctx.strokeStyle = '#1a1a1a';
    ctx.lineWidth = 2;
    ctx.strokeRect(a.left, a.top, a.right - a.left, a.bottom - a.top);

    if (o.xTitle) {
      ctx.fillStyle = '#000';
      ctx.textAlign = 'center';
      ctx.font = "28px 'Liberation Sans', Arial, sans-serif";
      ctx.fillText(o.xTitle, (a.left + a.right) / 2 - 18, a.bottom + 62);
    }
    ctx.restore();
  }
};

var panels = [
  { id: 'pa', label: '(a) x=0.05', series: [a140,a160,a180,a200,a220,a240,a260,a280,a300,a320,a340,a360,a380,a400],
    pad: {left: 0, top: 2, right: 684, bottom: 504}, yw: 94, xh: 0, xLabels: false, yTitle: true,
    ymin: 2.04e-7, ymax: 0.153, xmax: 1.47e7, labelDx: 9, labelDy: 17,
    arrow: [570, 0.0457, 178200, 3.69e-5],
    notes: [{t: '140 K', x: 299, y: 0.0254}, {t: '400 K', x: 278600, y: 5.83e-5}, {t: '\u0394T=20 K', x: 52970, y: 2.19e-5}] },
  { id: 'pb', label: '(b) x=0.10', series: [b140,b160,b180,b200,b220,b240,b260,b280,b300,b320,b340,b360,b380,b400],
    pad: {left: 700, top: 2, right: 28, bottom: 504}, yw: 50, xh: 0, xLabels: false, yTitle: false,
    ymin: 1.82e-6, ymax: 0.1445, xmax: 1.5e7, labelDx: 11, labelDy: 18,
    arrow: [1312, 0.0214, 300000, 2.33e-4],
    notes: [{t: '140 K', x: 1186, y: 0.0341}, {t: '400 K', x: 518800, y: 1.82e-4}, {t: '\u0394T=20 K', x: 78700, y: 1.39e-4}] },
  { id: 'pc', label: '(c) x=0.15', series: [c140,c160,c180,c200,c220,c240,c260,c280,c300,c320,c340,c360,c380,c400],
    pad: {left: 0, top: 417, right: 684, bottom: 10}, yw: 94, xh: 74, xLabels: true, yTitle: true,
    ymin: 2.04e-6, ymax: 0.162, xmax: 1.47e7, labelDx: 8, labelDy: 19,
    arrow: [2495, 0.0298, 201400, 1.69e-4],
    notes: [{t: '140 K', x: 3972, y: 0.0632}, {t: '400 K', x: 392600, y: 1.69e-4}, {t: '\u0394T=20 K', x: 74640, y: 9.1e-5}] },
  { id: 'pd', label: '(d) x=0.2', series: [d140,d160,d180,d200,d220,d240,d260,d280,d300,d320,d340,d360,d380,d400],
    pad: {left: 700, top: 417, right: 28, bottom: 10}, yw: 50, xh: 74, xLabels: true, yTitle: false,
    ymin: 4.42e-6, ymax: 0.153, xmax: 1.5e7, labelDx: 9, labelDy: 19,
    arrow: [2831, 0.0550, 319200, 7.52e-4],
    notes: [{t: '140 K', x: 4426, y: 0.0933}, {t: '400 K', x: 497700, y: 1.09e-3}, {t: '\u0394T=20 K', x: 72610, y: 5.18e-4}] }
];

panels.forEach(function (p) {
  var datasets = p.series.map(function (vals, i) {
    return {
      label: temps[i] + ' K',
      data: vals.map(function (lv, k) { return {x: omega[k], y: Math.pow(10, lv)}; }),
      showLine: false,
      pointStyle: styleFor(i),
      pointRotation: rotations[i],
      pointRadius: radii[i],
      pointBorderWidth: 1.8,
      pointBorderColor: colors[i],
      pointBackgroundColor: 'rgba(0,0,0,0)',
      borderColor: colors[i],
      backgroundColor: 'rgba(0,0,0,0)'
    };
  });

  new Chart(document.getElementById(p.id), {
    type: 'scatter',
    data: {datasets: datasets},
    plugins: [decor],
    options: {
      responsive: false,
      animation: false,
      devicePixelRatio: 1,
      events: [],
      layout: {padding: p.pad},
      plugins: {
        legend: {display: false},
        tooltip: {enabled: false},
        decor: {label: p.label, labelDx: p.labelDx, labelDy: p.labelDy, arrow: p.arrow, notes: p.notes,
                xTitle: p.xLabels ? 'angular frequency \u03C9 (rad/sec)' : ''}
      },
      scales: {
        x: {
          type: 'logarithmic', min: 100, max: p.xmax,
          grid: {display: false}, border: {display: false},
          ticks: {display: p.xLabels, autoSkip: false, maxRotation: 0, minRotation: 0, padding: 8,
                  font: {size: 23}, color: '#000', callback: function (v) { return decadeLabel(v); }},
          afterFit: function (s) { s.height = p.xh; s.paddingLeft = 0; s.paddingRight = 0; }
        },
        y: {
          type: 'logarithmic', min: p.ymin, max: p.ymax,
          grid: {display: false}, border: {display: false},
          ticks: {autoSkip: false, padding: p.yw > 60 ? 6 : 4, font: {size: 20}, color: '#000',
                  callback: function (v) { return decadeLabel(v); }},
          title: {display: p.yTitle, text: "M'", font: {size: 32}, color: '#000', padding: {top: 9, bottom: 0}},
          afterFit: function (s) { s.width = p.yw; s.paddingTop = 0; s.paddingBottom = 0; }
        }
      }
    }
  });
});
</script>
</body>
</html>
